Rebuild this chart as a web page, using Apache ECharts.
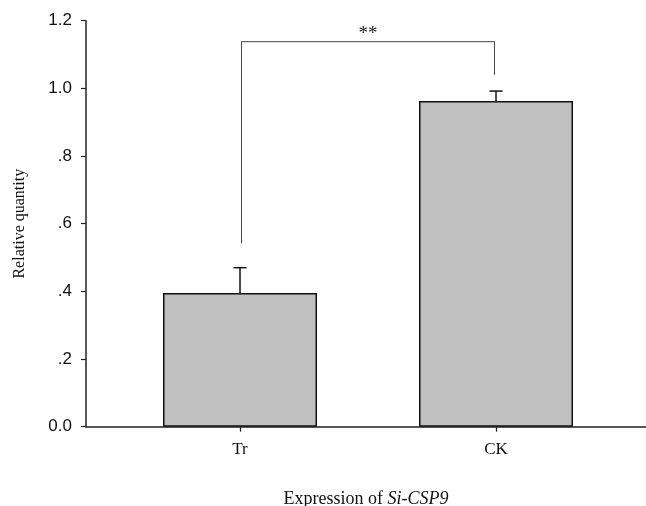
<!DOCTYPE html>
<html>
<head>
<meta charset="utf-8">
<script src="https://cdn.jsdelivr.net/npm/echarts@6/dist/echarts.min.js"></script>
<style>
html,body{margin:0;padding:0;background:#fff;}
#chart{width:646px;height:506px;}
</style>
</head>
<body>
<div id="chart"></div>
<script>
// Data
var categories = ['Tr', 'CK'];
var values = [0.395, 0.963];
var errors = [0.075, 0.029];
var yTicks = [0, 0.2, 0.4, 0.6, 0.8, 1.0, 1.2];
var yTickLabels = ['0.0', '.2', '.4', '.6', '.8', '1.0', '1.2'];
var bracket = { from: 1, to: 2, leftLow: 0.542, rightLow: 1.04, top: 1.138, label: '**' };

var positions = categories.map(function (c, i) { return i + 1; });
var barData = values.map(function (v, i) { return [positions[i], v]; });
var errData = values.map(function (v, i) { return [positions[i], v, v + errors[i]]; });

var chart = echarts.init(document.getElementById('chart'));
chart.setOption({
  animation: false,
  backgroundColor: '#fff',
  grid: { left: 86, right: 0, top: 20.7, bottom: 79.3, containLabel: false, outerBoundsMode: 'none' },
  xAxis: {
    type: 'value',
    min: 0.3984,
    max: 2.5859,
    splitLine: { show: false },
    axisLine: { show: true, onZero: false, lineStyle: { color: '#222', width: 1.5 } },
    axisTick: { show: true, customValues: positions, length: 5, lineStyle: { color: '#222', width: 1.2 } },
    axisLabel: {
      customValues: positions,
      margin: 14,
      fontFamily: 'Liberation Serif',
      fontSize: 17,
      color: '#111',
      formatter: function (v) { return categories[Math.round(v) - 1] || ''; }
    },
    name: '{n|Expression of }{i|Si-CSP9}',
    nameLocation: 'middle',
    nameGap: 64,
    nameTextStyle: {
      rich: {
        n: { fontFamily: 'Liberation Serif', fontSize: 18, color: '#111' },
        i: { fontFamily: 'Liberation Serif', fontSize: 18, fontStyle: 'italic', color: '#111' }
      }
    }
  },
  yAxis: {
    type: 'value',
    min: 0,
    max: 1.2,
    interval: 0.2,
    splitLine: { show: false },
    axisLine: { show: true, lineStyle: { color: '#222', width: 1.5 } },
    axisTick: { show: true, length: 5, lineStyle: { color: '#222', width: 1.2 } },
    axisLabel: {
      margin: 14,
      fontFamily: 'Liberation Sans',
      fontSize: 17,
      color: '#111',
      formatter: function (v) {
        var idx = yTicks.findIndex(function (t) { return Math.abs(t - v) < 1e-6; });
        return idx >= 0 ? yTickLabels[idx] : '';
      }
    },
    name: 'Relative quantity',
    nameLocation: 'middle',
    nameGap: 58,
    nameTextStyle: { fontFamily: 'Liberation Serif', fontSize: 16, color: '#111' }
  },
  series: [
    {
      type: 'bar',
      data: barData,
      barWidth: 154,
      itemStyle: { color: '#c0c0c0', borderColor: '#111', borderWidth: 1.5 },
      z: 2
    },
    {
      type: 'custom',
      data: errData,
      z: 3,
      renderItem: function (params, api) {
        var x = api.value(0);
        var base = api.coord([x, api.value(1)]);
        var top = api.coord([x, api.value(2)]);
        var style = { stroke: '#111', lineWidth: 1.5 };
        return {
          type: 'group',
          children: [
            { type: 'line', shape: { x1: base[0], y1: base[1], x2: top[0], y2: top[1] }, style: style },
            { type: 'line', shape: { x1: top[0] - 6.5, y1: top[1], x2: top[0] + 6.5, y2: top[1] }, style: style }
          ]
        };
      }
    },
    {
      type: 'custom',
      data: [[bracket.from, bracket.to, bracket.leftLow, bracket.rightLow, bracket.top]],
      z: 4,
      clip: false,
      renderItem: function (params, api) {
        var a = api.coord([api.value(0), api.value(2)]);
        var b = api.coord([api.value(1), api.value(3)]);
        var ta = api.coord([api.value(0), api.value(4)]);
        var tb = api.coord([api.value(1), api.value(4)]);
        return {
          type: 'group',
          children: [
            { type: 'polyline', shape: { points: [[a[0] + 1.5, a[1]], [ta[0] + 1.5, ta[1]], [tb[0] - 1.5, tb[1]], [b[0] - 1.5, b[1]]] }, style: { stroke: '#444', lineWidth: 1, fill: null } },
            { type: 'text', style: { text: bracket.label, x: (ta[0] + tb[0]) / 2, y: ta[1] - 8, align: 'center', verticalAlign: 'middle', fontFamily: 'Liberation Serif', fontSize: 19, fill: '#222' } }
          ]
        };
      }
    }
  ]
});
</script>
</body>
</html>
